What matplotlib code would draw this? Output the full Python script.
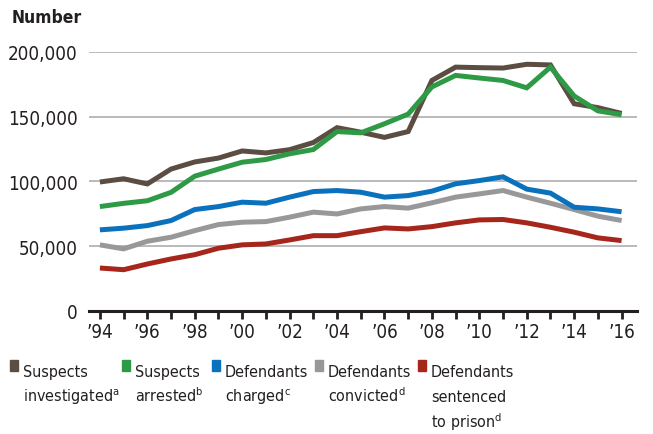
#!/usr/bin/env python3
"""Federal justice pipeline chart: suspects to prison, 1994-2016."""

import matplotlib
matplotlib.use("Agg")
import matplotlib.pyplot as plt
import matplotlib.ticker as mticker
from matplotlib.patches import Rectangle

TEXT = "#231f20"
BROWN = "#5c4d42"
GREEN = "#2f9a46"
BLUE = "#0a72bd"
GRAY = "#98989b"
RED = "#a6261c"

plt.rcParams["font.family"] = ["DejaVu Sans"]
plt.rcParams["font.stretch"] = "condensed"
plt.rcParams["mathtext.default"] = "regular"

years = list(range(1994, 2017))
tick_years = list(range(1994, 2017, 2))
tick_labels = ["\u2019" + str(y)[2:] for y in tick_years]

investigated = [99500, 102000, 98000, 109500, 115000, 118000, 123500, 122000, 124500,
                130000, 141500, 138000, 134000, 138500, 178000, 188300, 187900, 187600,
                190500, 190000, 160000, 157000, 152500]
arrested = [80500, 83000, 85000, 91500, 104000, 109500, 114800, 116900, 121300,
            124600, 138500, 137500, 144500, 152000, 173000, 181900, 179900, 178000,
            172300, 188300, 166000, 154500, 151500]
charged = [62500, 63800, 65800, 69700, 78200, 80500, 83900, 83100, 87800,
           92100, 92900, 91600, 87800, 89000, 92400, 98100, 100600, 103500,
           94000, 90900, 80000, 78700, 76500]
convicted = [50900, 47800, 53700, 56800, 61900, 66600, 68400, 68900, 72300,
             76200, 74800, 78700, 80500, 79300, 83400, 87800, 90300, 92900,
             87800, 83100, 78200, 73100, 69700]
prison = [33000, 31700, 36100, 40000, 43300, 48300, 50900, 51600, 54700,
          58000, 58000, 61100, 64000, 63200, 65000, 67900, 70200, 70500,
          67900, 64500, 60700, 56300, 54200]

legend_labels = [
    ["Suspects", "investigated$^{a}$"],
    ["Suspects", "arrested$^{b}$"],
    ["Defendants", "charged$^{c}$"],
    ["Defendants", "convicted$^{d}$"],
    ["Defendants", "sentenced", "to prison$^{d}$"],
]

W, H = 653, 435
fig = plt.figure(figsize=(W / 100, H / 100), dpi=100)
fig.patch.set_facecolor("white")
ax = fig.add_axes([89 / W, (H - 311.7) / H, (637 - 89) / W, (311.7 - 53) / H])

for v in [50000, 100000, 150000, 200000]:
    ax.axhline(v, color="#a7a7a9", lw=1.1, zorder=1)

series = [
    (investigated, BROWN),
    (arrested, GREEN),
    (convicted, GRAY),
    (charged, BLUE),
    (prison, RED),
]
for vals, col in series:
    ax.plot(years, vals, color=col, lw=3.6, solid_joinstyle="miter",
            solid_capstyle="butt", zorder=3, clip_on=False)

ax.set_xlim(1993.54, 2016.65)
ax.set_ylim(0, 200000)
ax.set_yticks([0, 50000, 100000, 150000, 200000])
ax.yaxis.set_major_formatter(mticker.FuncFormatter(lambda x, _: f"{x:,.0f}"))
ax.set_xticks(years, minor=True)
ax.set_xticks(tick_years)
ax.set_xticklabels(tick_labels)

for s in ["top", "right", "left"]:
    ax.spines[s].set_visible(False)
ax.spines["bottom"].set_color(TEXT)
ax.spines["bottom"].set_linewidth(2.2)
ax.tick_params(axis="y", length=0, pad=8, labelsize=13.5, labelcolor=TEXT)
ax.tick_params(axis="x", which="both", direction="out", length=6, width=2,
               color=TEXT, labelsize=13.5, labelcolor=TEXT, pad=2)
ax.tick_params(axis="x", which="minor", labelbottom=False)

fig.text(12 / W, 1 - 18 / H, "Number", fontsize=12.5, fontweight="bold",
         color=TEXT, va="center", ha="left")

# legend below the axis: one text per line so the baselines stay even
legend_cols = [BROWN, GREEN, BLUE, GRAY, RED]
sq_x = [10, 122, 212, 315, 418]
baselines = [377, 402, 428]
for x, col, lines in zip(sq_x, legend_cols, legend_labels):
    fig.patches.append(Rectangle((x / W, 1 - 372 / H), 8 / W, 11 / H,
                                 transform=fig.transFigure, color=col))
    for line, yb in zip(lines, baselines):
        fig.text((x + 13) / W, 1 - yb / H, line, fontsize=11.5, color=TEXT,
                 va="baseline", ha="left")

fig.savefig("out.png", dpi=100)
